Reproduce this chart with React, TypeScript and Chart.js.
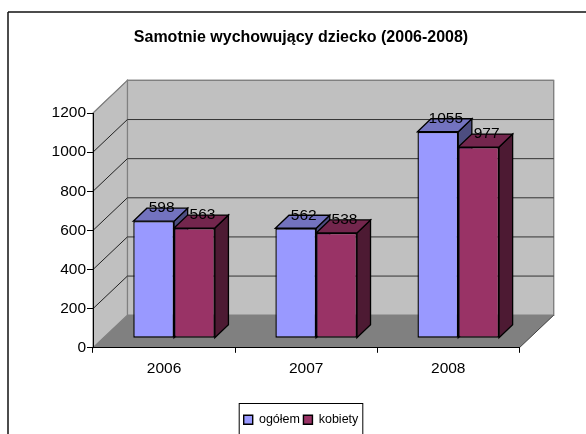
import React, { useEffect, useRef } from "react";
import { Chart, registerables } from "chart.js";

Chart.register(...registerables);

const years = ["2006", "2007", "2008"];
const ogolem = [598, 562, 1055];
const kobiety = [563, 538, 977];
const seriesNames = ["ogółem", "kobiety"];
const chartTitle = "Samotnie wychowujący dziecko (2006-2008)";

const FONT = "'Liberation Sans', Arial, sans-serif";
const WALL_DX = 34.4;
const WALL_DY = 32.6;
const PLANE_DX = 10;
const PLANE_DY = 9.6;
const BAR_DX = 13.6;
const BAR_DY = 13;

const faceColors = [
  { top: "#7373BF", side: "#4D4D80" },
  { top: "#73264D", side: "#4D1A33" },
];

function poly(ctx: CanvasRenderingContext2D, pts: number[][], fill: string | null, stroke: string | null, lw = 1) {
  ctx.beginPath();
  pts.forEach((p, i) => (i ? ctx.lineTo(p[0], p[1]) : ctx.moveTo(p[0], p[1])));
  ctx.closePath();
  if (fill) {
    ctx.fillStyle = fill;
    ctx.fill();
  }
  if (stroke) {
    ctx.strokeStyle = stroke;
    ctx.lineWidth = lw;
    ctx.stroke();
  }
}

function line(ctx: CanvasRenderingContext2D, x1: number, y1: number, x2: number, y2: number, color: string, lw = 1) {
  ctx.beginPath();
  ctx.moveTo(x1, y1);
  ctx.lineTo(x2, y2);
  ctx.strokeStyle = color;
  ctx.lineWidth = lw;
  ctx.stroke();
}

const scene3d = {
  id: "scene3d",
  beforeDraw(chart: any) {
    const { ctx, chartArea: a, scales } = chart;
    const y = scales.y;
    ctx.save();
    ctx.fillStyle = "#fff";
    ctx.fillRect(0, 0, chart.width, chart.height);
    line(ctx, 8, 12, 8, chart.height, "#111", 1.5);
    line(ctx, 8, 12, chart.width, 12, "#111", 1.5);

    const bx = a.left + WALL_DX;
    const rx = a.right + WALL_DX;
    const ty = a.top - WALL_DY;
    const by = a.bottom - WALL_DY;
    poly(ctx, [[bx, ty], [rx, ty], [rx, by], [bx, by]], "#C0C0C0", "#808080", 1.4);
    poly(ctx, [[a.left, a.top], [bx, ty], [bx, by], [a.left, a.bottom]], "#C0C0C0", "#808080", 1.2);
    poly(ctx, [[a.left, a.bottom], [a.right, a.bottom], [rx, by], [bx, by]], "#808080", null);
    line(ctx, a.right, a.bottom, rx, by, "#404040", 1);

    y.ticks.forEach((t: any) => {
      if (t.value === 0) return;
      const py = y.getPixelForValue(t.value);
      const top = t.value === y.max;
      const c = top ? "#808080" : "#222";
      line(ctx, a.left, py, bx, py - WALL_DY, c, 1);
      line(ctx, bx, py - WALL_DY, rx, py - WALL_DY, top ? "#808080" : "#333", top ? 1.4 : 1);
    });
    ctx.restore();
  },
  beforeDatasetsDraw(chart: any) {
    const { ctx } = chart;
    ctx.save();
    ctx.translate(PLANE_DX, -PLANE_DY);
    [0, 1].forEach((index) => {
      const colors = faceColors[index];
      chart.getDatasetMeta(index).data.forEach((el: any) => {
        const l = el.x - el.width / 2;
        const r = el.x + el.width / 2;
        poly(ctx, [[r, el.y], [r + BAR_DX, el.y - BAR_DY], [r + BAR_DX, el.base - BAR_DY], [r, el.base]], colors.side, "#000", 1.3);
        poly(ctx, [[l, el.y], [l + BAR_DX, el.y - BAR_DY], [r + BAR_DX, el.y - BAR_DY], [r, el.y]], colors.top, "#000", 1.3);
      });
    });
  },
  afterDatasetsDraw(chart: any) {
    const { ctx } = chart;
    ctx.font = `15.5px ${FONT}`;
    ctx.fillStyle = "#000";
    ctx.textAlign = "center";
    ctx.textBaseline = "middle";
    [0, 1].forEach((index) => {
      const values = chart.data.datasets[index].data;
      chart.getDatasetMeta(index).data.forEach((el: any, i: number) => {
        ctx.fillText(String(values[i]), el.x + 8, el.y - 13);
      });
    });
    ctx.restore();
  },
  afterDraw(chart: any) {
    const { ctx } = chart;
    const boxes = chart.legend.legendHitBoxes;
    const first = boxes[0];
    const last = boxes[boxes.length - 1];
    ctx.save();
    ctx.strokeStyle = "#000";
    ctx.lineWidth = 1;
    ctx.strokeRect(first.left - 4.5, 403.5, last.left + last.width - first.left + 9, 60);
    ctx.restore();
  },
};

export default function App() {
  const ref = useRef<HTMLCanvasElement>(null);
  useEffect(() => {
    const chart = new Chart(ref.current as HTMLCanvasElement, {
      type: "bar",
      data: {
        labels: years,
        datasets: [
          { label: seriesNames[0], data: ogolem, backgroundColor: "#9999FF" },
          { label: seriesNames[1], data: kobiety, backgroundColor: "#993366" },
        ],
      },
      options: {
        responsive: false,
        animation: false,
        devicePixelRatio: 1,
        layout: { padding: { left: 16, right: 0, top: 0, bottom: -2 } },
        datasets: {
          bar: {
            barPercentage: 1,
            categoryPercentage: 0.574,
            borderColor: "#000",
            borderWidth: 1.4,
            borderSkipped: false,
            clip: false,
          },
        },
        scales: {
          x: {
            grid: { drawOnChartArea: false, tickLength: 5, color: "#000" },
            border: { color: "#000", width: 1 },
            ticks: { color: "#000", padding: 6.6, font: { family: FONT, size: 15.5 } },
            afterFit: (s: any) => {
              s.height = 62.2;
            },
          },
          y: {
            min: 0,
            max: 1200,
            ticks: {
              stepSize: 200,
              color: "#000",
              padding: 1,
              font: { family: FONT, size: 15.5 },
              callback: (v: any) => String(v),
            },
            grid: { drawOnChartArea: false, tickLength: 6, color: "#000" },
            border: { color: "#000", width: 1 },
            afterFit: (s: any) => {
              s.width = 77;
            },
          },
          gutter: {
            position: "right",
            display: true,
            grid: { display: false },
            border: { display: false },
            ticks: { display: false },
            afterFit: (s: any) => {
              s.width = 66.7;
            },
          },
        },
        plugins: {
          title: {
            display: true,
            text: chartTitle,
            color: "#000",
            font: { family: FONT, size: 16, weight: "bold" },
            padding: { top: 28, bottom: 65.8 },
          },
          legend: {
            position: "bottom",
            labels: {
              boxWidth: 9,
              boxHeight: 9,
              padding: 3.5,
              color: "#000",
              font: { family: FONT, size: 12.5 },
            },
          },
          tooltip: { enabled: false },
        },
      } as any,
      plugins: [scene3d as any],
    });
    return () => chart.destroy();
  }, []);
  return (
    <canvas
      ref={ref}
      width={586}
      height={434}
      style={{ position: "fixed", left: 0, top: 0, width: 586, height: 434, display: "block" }}
    />
  );
}
